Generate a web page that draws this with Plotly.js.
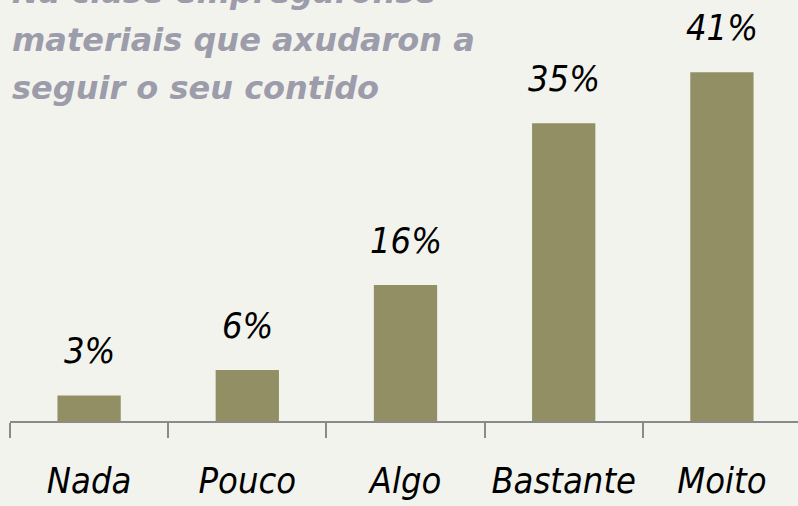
<!DOCTYPE html>
<html><head><meta charset="utf-8">
<script src="https://cdn.plot.ly/plotly-3.0.1.min.js"></script>
<style>html,body{margin:0;padding:0;background:#f3f3ee;}</style>
</head><body>
<div id="chart" style="width:798px;height:506px;"></div>
<script>
const categories = ["Nada", "Pouco", "Algo", "Bastante", "Moito"];
const values = [3, 6, 16, 35, 41];
const titleLines = ["Na clase empregáronse", "materiais que axudaron a", "seguir o seu contido"];

const hand = {family: "Liberation Sans Narrow, DejaVu Sans Condensed, sans-serif", style: "italic", color: "#000000"};

const trace = {
  type: "bar",
  x: categories,
  y: values,
  marker: {color: "#928f64"},
  width: 0.4,
  hoverinfo: "none"
};

const annotations = categories.map((c, i) => ({
  x: c, y: values[i], xref: "x", yref: "y",
  text: values[i] + "%", showarrow: false,
  yanchor: "bottom", yshift: 22,
  font: Object.assign({}, hand, {size: 36})
}));
const plotH = 421;
const lineBottoms = [13, 61, 109];
titleLines.forEach((t, i) => annotations.push({
  xref: "paper", yref: "paper", x: 0, y: 1 - lineBottoms[i] / plotH,
  xanchor: "left", yanchor: "bottom", align: "left",
  text: t, showarrow: false,
  font: {family: "DejaVu Sans, sans-serif", size: 32, weight: "bold", style: "italic", color: "#9c9cab"}
}));

const layout = {
  width: 798, height: 506,
  margin: {l: 10, r: 0, t: 0, b: 85},
  paper_bgcolor: "#f3f3ee",
  plot_bgcolor: "#f3f3ee",
  showlegend: false,
  xaxis: {
    type: "category",
    range: [-0.5, 4.481],
    showline: true, linecolor: "#8a8a8a", linewidth: 2,
    ticks: "outside", tickson: "boundaries", ticklen: 15, tickcolor: "#8a8a8a", tickwidth: 2,
    ticklabelstandoff: 27,
    tickfont: Object.assign({}, hand, {size: 36}),
    showgrid: false, zeroline: false, fixedrange: true
  },
  yaxis: {
    range: [0, 49.5],
    visible: false, showgrid: false, zeroline: false, fixedrange: true
  },
  annotations: annotations
};

Plotly.newPlot("chart", [trace], layout, {displayModeBar: false, staticPlot: true});
</script>
</body></html>
